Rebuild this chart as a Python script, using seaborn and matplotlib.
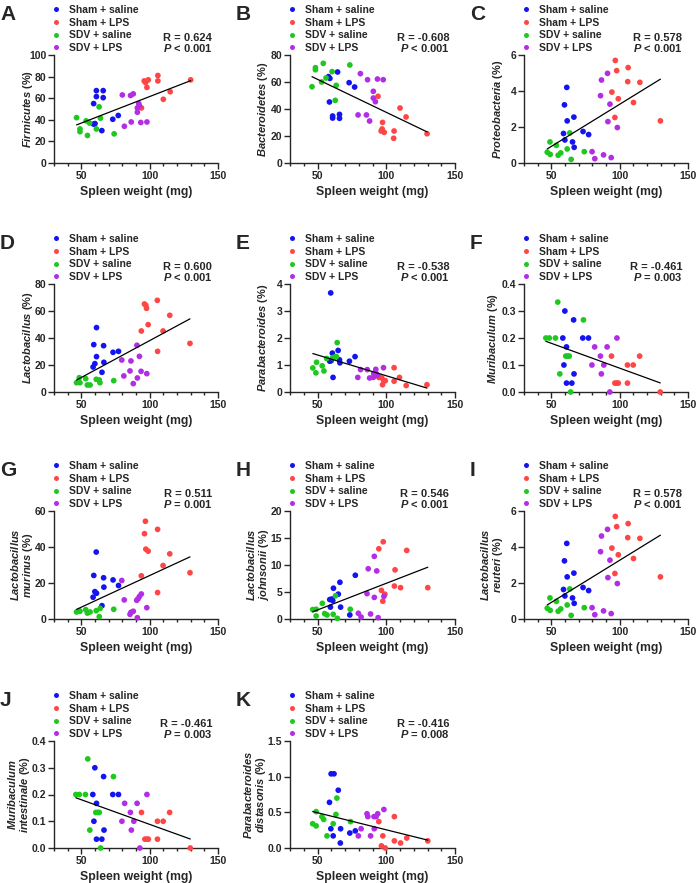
import numpy as np
import pandas as pd
import matplotlib
matplotlib.use("Agg")
import matplotlib.pyplot as plt
from matplotlib.ticker import MultipleLocator, FormatStrFormatter
import seaborn as sns

sns.set_theme(style="ticks")
plt.rcParams['font.family'] = ['Liberation Sans', 'DejaVu Sans']
plt.rcParams['font.weight'] = 'bold'
plt.rcParams['mathtext.fontset'] = 'custom'
plt.rcParams['mathtext.it'] = 'Liberation Sans:italic:bold'
plt.rcParams['mathtext.rm'] = 'Liberation Sans:bold'
plt.rcParams['mathtext.bf'] = 'Liberation Sans:bold'

groups = ["Sham + saline", "Sham + LPS", "SDV + saline", "SDV + LPS"]
colors = ["#1414F0", "#FF4646", "#1EC81E", "#B42DE6"]

# ---- Panel A: Firmicutes ----
A_ss = [(61,67),(66,67),(61,61.5),(66,60.5),(59,55),(73,40.5),(77,44),(59,36),(60,36.5),(65,30)]
A_sl = [(106,81),(106,76),(99,77),(96,76),(97,74.5),(98,70),(130,77),(115,66),(110,59),(94,51)]
A_vs = [(46.5,42),(63,52),(64,41.5),(53.5,39),(56,37),(49,31.5),(49,29),(61,31.5),(54.5,25.5),(74,27)]
A_vl = [(80,63),(86,62.5),(88,64),(92,55),(92.5,53),(91,51),(91,47),(81.5,34),(86.5,38),(93.5,37.5),(98,38)]

# ---- Panel B: Bacteroidetes ----
B_ss = [(58,64),(59,62.7),(64.6,67.4),(73,59.5),(77,56.3),(58.7,45.2),(61,34.8),(61,33.3),(66,36),(66,33.1)]
B_sl = [(94,49.4),(110,40.7),(114.4,34.1),(97.3,30.1),(97,25.2),(96.3,23.7),(98.5,22.7),(105.7,23.7),(105.4,18.3),(129.7,21.7)]
B_vs = [(54.2,73.8),(48.5,70.6),(48.5,69.1),(73.5,72.6),(60.6,67.7),(56.2,63),(53,60),(46,56.5),(63.6,57.5),(62.9,46.4)]
B_vl = [(81.2,66.2),(86.4,61.7),(93.6,62.2),(97.8,61.7),(90.6,53.1),(90.6,48.1),(92.1,45.4),(79.5,35.6),(85.6,35.6),(87.9,31.1)]

# ---- Panel C: Proteobacteria ----
C_ss = [(61.3,4.2),(59.6,3.23),(61.6,2.34),(66.5,2.55),(58.9,1.64),(59.9,1.28),(65.5,1.17),(66.7,0.87),(73.2,1.75),(77.3,1.58)]
C_sl = [(96.8,5.7),(97.8,5.13),(106.2,5.3),(105.9,4.52),(114.8,4.48),(94.3,3.94),(99,3.57),(110.1,3.36),(96.5,2.53),(129.8,2.34)]
C_vs = [(49,1.17),(63.5,1.67),(53.7,0.98),(47,0.6),(49.2,0.48),(56.9,0.56),(55,0.43),(61.6,0.78),(74.1,0.63),(64.5,0.2)]
C_vl = [(91.1,4.98),(86.7,4.61),(86,3.74),(92.9,3.27),(91.4,2.3),(98.3,1.97),(79.8,0.63),(81.8,0.24),(88.2,0.45),(93.8,0.3)]

# ---- Panel D: Lactobacillus ----
D_ss = [(61.1,47.7),(59.1,35.1),(66.3,34.3),(61.1,26.2),(73.2,29.4),(77.2,30.1),(59.9,21),(66.5,22),(58.6,18.5),(65.1,14.6)]
D_sl = [(105.6,67.9),(96.2,65.2),(97.2,64.2),(97.7,62),(98.9,49.9),(114.7,56.8),(93.9,45.2),(109.8,45.2),(129.5,36),(105.8,30.1)]
D_vs = [(48.5,10.6),(53.2,9.9),(60.9,9.4),(63.1,8.9),(73.7,8.4),(63.6,6.9),(46.5,6.9),(49,6.9),(54.4,5.2),(56.4,5.2)]
D_vl = [(90.7,34.6),(79.6,23.7),(86.3,23),(92.5,26.4),(85.6,15.6),(93.7,15.3),(97.9,13.6),(81.1,11.9),(91,10.4),(88,6.2)]

# ---- Panel E: Parabacteroides ----
E_ss = [(59.6,3.67),(60.8,1.44),(65,1.54),(77.3,1.31),(73.2,1.14),(66,1.19),(66.3,1.08),(58.9,1.14),(59.9,1.16),(61.3,0.54)]
E_sl = [(105.7,0.9),(109.6,0.54),(94.6,0.54),(96.8,0.52),(98.3,0.41),(99.3,0.42),(97.3,0.27),(105.7,0.4),(114.5,0.24),(129.6,0.27)]
E_vs = [(64.3,1.83),(62.3,1.29),(63.8,1.31),(56.7,1.24),(49.3,1.1),(53.4,0.97),(46.6,0.89),(54.7,0.78),(48.8,0.71),(61,1.27)]
E_vl = [(98,0.9),(92.4,0.84),(86.2,0.83),(81.3,0.83),(90.9,0.69),(93.8,0.62),(87.9,0.52),(90.6,0.54),(79.3,0.54),(92.8,0.67)]

# ---- Panel F: Muribaculum ----
F_ss = [(59.9,0.3),(66.3,0.267),(58.4,0.2),(73,0.2),(77.2,0.2),(61.1,0.167),(59.2,0.1),(66.6,0.067),(61.1,0.033),(65,0.033)]
F_sl = [(94,0.133),(114.6,0.133),(105.7,0.1),(109.9,0.1),(96.5,0.033),(97.8,0.033),(99,0.033),(105.7,0.033),(129.7,0)]
F_vs = [(54.7,0.333),(73.5,0.267),(46,0.2),(48.5,0.2),(53,0.2),(60.6,0.133),(62,0.133),(63.1,0.133),(56.2,0.067),(64.1,0)]
F_vl = [(98,0.2),(81.7,0.167),(90.8,0.167),(85.9,0.133),(79.7,0.1),(88.4,0.1),(86.6,0.067),(92.8,0)]

# ---- Panel G: Lactobacillus murinus ----
G_ss = [(60.9,37.2),(59.1,24.2),(66.3,22.9),(73.2,21.7),(77.2,18.6),(59.9,15.2),(61.1,14.3),(66.5,17.7),(58.6,12.1),(65.1,7.4)]
G_sl = [(96.9,54.3),(96.2,47.4),(105.8,49.8),(97.2,38.8),(98.9,37.7),(114.7,36.2),(109.8,29.7),(129.5,25.7),(93.9,24),(105.8,14.7)]
G_vs = [(46.5,3.9),(48.5,4.6),(53.2,5.2),(60.9,4.6),(63.8,5.9),(73.7,5.4),(54.4,3.3),(56.4,3.9),(63.1,1.3),(49,4.3)]
G_vl = [(79.6,21.4),(81.4,10.6),(93.9,13.9),(92.5,12.5),(91.5,11.2),(90.5,10.4),(97.9,6.3),(88,4.3),(86.3,3.7),(85.6,2.6),(91,0.7)]

# ---- Panel H: Lactobacillus johnsonii ----
H_ss = [(77.5,8.1),(66.3,6.8),(61.6,5.7),(65.1,4.6),(58.9,3.6),(60.4,3.7),(61.1,3.4),(59.4,2.2),(66.8,2.2),(73.5,0.75)]
H_sl = [(97.8,14.3),(94.6,13),(114.9,12.7),(106.4,9.1),(105.9,6.1),(110.4,5.8),(130.2,5.8),(96.5,5.3),(99,4.6),(97.5,3.3)]
H_vs = [(63.1,4.3),(53.5,2.9),(46.5,1.74),(49,1.8),(73.8,1.8),(55.2,1),(56.9,0.75),(61.4,0.87),(49,0.56),(64.4,0.12)]
H_vl = [(91.3,11.6),(86.9,9.3),(93.1,8.9),(86,4.7),(98.3,4.2),(91.3,4),(79.7,1.06),(88.6,0.93),(81.7,0.37),(94.1,0.25)]

# ---- Panel I: Lactobacillus reuteri (same values as panel C in the figure) ----
I_ss = C_ss
I_sl = C_sl
I_vs = C_vs
I_vl = C_vl

# ---- Panel J: Muribaculum intestinale (same values as panel F in the figure) ----
J_ss = F_ss
J_sl = F_sl
J_vs = F_vs
J_vl = F_vl

# ---- Panel K: Parabacteroides distasonis ----
K_ss = [(59.9,1.04),(62,1.04),(65.1,0.81),(58.7,0.64),(59.7,0.27),(66.8,0.27),(77.5,0.24),(73.5,0.21),(61.4,0.17),(66.6,0.07)]
K_sl = [(94.6,0.37),(105.9,0.44),(97.5,0.17),(114.9,0.14),(105.9,0.10),(130.2,0.10),(110.4,0.07),(96.5,0.03),(99.3,0.0)]
K_vs = [(64.1,0.7),(49,0.51),(63.4,0.47),(53.2,0.44),(54.5,0.40),(46.5,0.34),(61.4,0.34),(74,0.37),(49,0.31),(56.9,0.17)]
K_vl = [(98.3,0.54),(86,0.48),(86.6,0.44),(93.8,0.48),(92.6,0.44),(91.1,0.44),(81.7,0.27),(91.3,0.27),(79.7,0.17),(88.6,0.17)]

letters = ["A", "B", "C", "D", "E", "F", "G", "H", "I", "J", "K"]
ylabels = [
    r"$\mathit{Firmicutes}$ (%)",
    r"$\mathit{Bacteroidetes}$ (%)",
    r"$\mathit{Proteobacteria}$ (%)",
    r"$\mathit{Lactobacillus}$ (%)",
    r"$\mathit{Parabacteroides}$ (%)",
    r"$\mathit{Muribaculum}$ (%)",
    "$\\mathit{Lactobacillus}$\n$\\mathit{murinus}$ (%)",
    "$\\mathit{Lactobacillus}$\n$\\mathit{johnsonii}$ (%)",
    "$\\mathit{Lactobacillus}$\n$\\mathit{reuteri}$ (%)",
    "$\\mathit{Muribaculum}$\n$\\mathit{intestinale}$ (%)",
    "$\\mathit{Parabacteroides}$\n$\\mathit{distasonis}$ (%)",
]
r_values = ["0.624", "-0.608", "0.578", "0.600", "-0.538", "-0.461", "0.511", "0.546", "0.578", "-0.461", "-0.416"]
p_values = ["< 0.001", "< 0.001", "< 0.001", "< 0.001", "< 0.001", "= 0.003", "= 0.001", "< 0.001", "< 0.001", "= 0.003", "= 0.008"]
y_max = [100, 80, 6, 80, 4, 0.4, 60, 20, 6, 0.4, 1.5]
y_step = [20, 20, 2, 20, 1, 0.1, 20, 5, 2, 0.1, 0.5]
y_fmt = ["%d", "%d", "%d", "%d", "%d", "%.1f", "%d", "%d", "%d", "%.1f", "%.1f"]

panel_data = [
    (A_ss, A_sl, A_vs, A_vl), (B_ss, B_sl, B_vs, B_vl), (C_ss, C_sl, C_vs, C_vl),
    (D_ss, D_sl, D_vs, D_vl), (E_ss, E_sl, E_vs, E_vl), (F_ss, F_sl, F_vs, F_vl),
    (G_ss, G_sl, G_vs, G_vl), (H_ss, H_sl, H_vs, H_vl), (I_ss, I_sl, I_vs, I_vl),
    (J_ss, J_sl, J_vs, J_vl), (K_ss, K_sl, K_vs, K_vl),
]

W, H = 698, 883
fig = plt.figure(figsize=(W / 100, H / 100), dpi=100)

# axes boxes in pixels: (left, right) per column, (top, bottom) per row
col_lr = [(54, 218), (290, 455), (524, 688)]
row_tb = [(55, 163), (284, 392), (511, 619), (741, 848)]
# right edge (px) of each rotated y label
ylab_right = [35, 270, 505, 35, 270, 500, 35, 271, 505, 32, 268]

for i, letter in enumerate(letters):
    r, c = divmod(i, 3)
    l, rt = col_lr[c]
    t, b = row_tb[r]
    ax = fig.add_axes([l / W, 1 - b / H, (rt - l) / W, (b - t) / H])

    rows = []
    for g, pts in zip(groups, panel_data[i]):
        for x, y in pts:
            rows.append({"x": x, "y": y, "group": g})
    df = pd.DataFrame(rows)

    sns.scatterplot(data=df, x="x", y="y", hue="group", hue_order=groups,
                    palette=colors, s=17, linewidth=0, ax=ax, legend=False,
                    clip_on=False, zorder=3)
    sns.regplot(data=df, x="x", y="y", scatter=False, ci=None, ax=ax,
                color="black", line_kws={"linewidth": 0.9, "zorder": 4})

    ax.set_xlim(30, 150)
    ax.set_ylim(0, y_max[i])
    ax.xaxis.set_major_locator(MultipleLocator(50))
    ax.xaxis.set_minor_locator(MultipleLocator(10))
    ax.yaxis.set_major_locator(MultipleLocator(y_step[i]))
    ax.yaxis.set_major_formatter(FormatStrFormatter(y_fmt[i]))
    ax.tick_params(axis="both", which="major", direction="out", length=4, width=1.0,
                   labelsize=7.5, pad=1.5)
    ax.tick_params(axis="x", which="minor", direction="out", length=2.5, width=1.0)
    for lab in ax.get_xticklabels() + ax.get_yticklabels():
        lab.set_fontweight("bold")
    for side in ["top", "right"]:
        ax.spines[side].set_visible(False)
    for side in ["left", "bottom"]:
        ax.spines[side].set_linewidth(1.0)
    ax.set_xlabel("Spleen weight (mg)", fontsize=8.8, fontweight="bold", labelpad=4)
    ax.set_ylabel(ylabels[i], fontsize=8, fontweight="bold", linespacing=1.0)
    ax.yaxis.set_label_coords((ylab_right[i] - l) / (rt - l), 0.5)

    # legend
    handles = [plt.Line2D([], [], marker="o", linestyle="", markersize=3.6,
                          markerfacecolor=colors[k], markeredgewidth=0)
               for k in range(4)]
    leg = ax.legend(handles, groups, loc="lower left", bbox_to_anchor=(-0.02, 1.0),
                    frameon=False, fontsize=7.5, handlelength=0.6, handletextpad=1.0,
                    labelspacing=0.25, borderaxespad=0.1, borderpad=0.1)
    for txt in leg.get_texts():
        txt.set_fontweight("bold")

    ax.text(0.965, 1.11, f"R = {r_values[i]}", transform=ax.transAxes, ha="right",
            va="bottom", fontsize=8, fontweight="bold")
    ax.text(0.965, 1.005, f"$P$ {p_values[i]}", transform=ax.transAxes, ha="right",
            va="bottom", fontsize=8, fontweight="bold")

    ax.text((l - 54) / W, 1 - (t - 50) / H, letter, transform=fig.transFigure,
            fontsize=15, fontweight="bold", ha="left", va="top")

fig.savefig("out.png", dpi=100)
